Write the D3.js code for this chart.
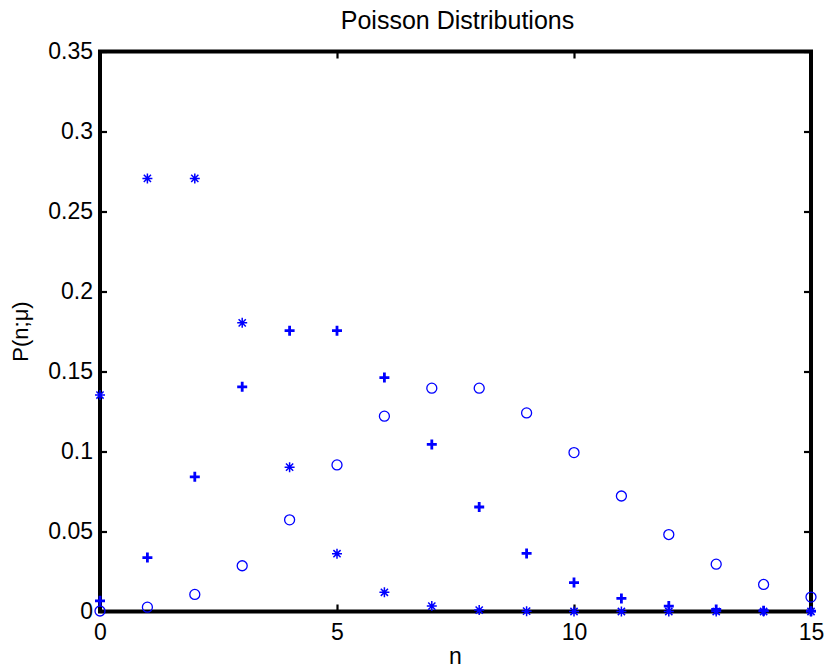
<!DOCTYPE html>
<html>
<head>
<meta charset="utf-8">
<script src="https://cdn.jsdelivr.net/npm/d3@7"></script>
<style>
  html, body { margin: 0; padding: 0; background: #fff; }
  svg text { font-family: "Liberation Sans", Arial, sans-serif; fill: #000; }
</style>
</head>
<body>
<svg id="chart" width="831" height="672"></svg>
<script>
// Poisson probabilities P(n; mu) for n = 0..15
const nValues = d3.range(0, 16);
const pMu2 = [0.1353, 0.2707, 0.2707, 0.1804, 0.0902, 0.0361, 0.0120, 0.0034,
              0.0009, 0.0002, 0.0000, 0.0000, 0.0000, 0.0000, 0.0000, 0.0000];
const pMu5 = [0.0067, 0.0337, 0.0842, 0.1404, 0.1755, 0.1755, 0.1462, 0.1044,
              0.0653, 0.0363, 0.0181, 0.0082, 0.0034, 0.0013, 0.0005, 0.0002];
const pMu8 = [0.0003, 0.0027, 0.0107, 0.0286, 0.0573, 0.0916, 0.1221, 0.1396,
              0.1396, 0.1241, 0.0993, 0.0722, 0.0481, 0.0296, 0.0169, 0.0090];
const xTicks = [0, 5, 10, 15];
const yTicks = [0, 0.05, 0.1, 0.15, 0.2, 0.25, 0.3, 0.35];

const svg = d3.select("#chart");
const plotL = 100, plotR = 811, plotT = 51.5, plotB = 611.5;
const blue = "#0000ff";

const x = d3.scaleLinear().domain([0, 15]).range([plotL, plotR]);
const y = d3.scaleLinear().domain([0, 0.35]).range([plotB, plotT]);

// Axes with inward ticks, MATLAB style
const fmt = d => String(+d.toFixed(2));
const tickLen = 7;
svg.append("g").attr("transform", `translate(0,${plotB})`)
  .call(d3.axisBottom(x).tickValues(xTicks).tickSize(-tickLen).tickPadding(12).tickFormat(d => d));
svg.append("g").attr("transform", `translate(${plotL},0)`)
  .call(d3.axisLeft(y).tickValues(yTicks).tickSize(-tickLen).tickPadding(7).tickFormat(fmt));
// ticks on top and right edges too
svg.append("g").attr("transform", `translate(0,${plotT})`)
  .call(d3.axisTop(x).tickValues(xTicks).tickSize(-tickLen).tickFormat(""));
svg.append("g").attr("transform", `translate(${plotR},0)`)
  .call(d3.axisRight(y).tickValues(yTicks).tickSize(-tickLen).tickFormat(""));

svg.selectAll(".domain").remove();
svg.selectAll(".tick line").attr("stroke", "#000").attr("stroke-width", 2.2);
svg.selectAll(".tick text").attr("font-size", 23).style("font-family", "Liberation Sans, Arial, sans-serif");

// Box frame
svg.append("rect")
  .attr("x", plotL).attr("y", plotT)
  .attr("width", plotR - plotL).attr("height", plotB - plotT)
  .attr("fill", "none").attr("stroke", "#000").attr("stroke-width", 4);

const marks = svg.append("g");

// mu = 8: open circles
marks.selectAll("circle.mu8").data(nValues).join("circle")
  .attr("class", "mu8")
  .attr("cx", d => x(d)).attr("cy", (d, i) => y(pMu8[i]))
  .attr("r", 5).attr("fill", "none").attr("stroke", blue).attr("stroke-width", 1.3);

// mu = 5: plus signs
marks.selectAll("path.mu5").data(nValues).join("path")
  .attr("class", "mu5")
  .attr("transform", (d, i) => `translate(${x(d)},${y(pMu5[i])})`)
  .attr("d", "M-5,0H5M0,-5V5")
  .attr("stroke", blue).attr("stroke-width", 2.8).attr("fill", "none");

// mu = 2: asterisks
const starPath = "M-5,0H5M0,-5V5M-3.6,-3.6L3.6,3.6M-3.6,3.6L3.6,-3.6";
marks.selectAll("path.mu2").data(nValues).join("path")
  .attr("class", "mu2")
  .attr("transform", (d, i) => `translate(${x(d)},${y(pMu2[i])})`)
  .attr("d", starPath)
  .attr("stroke", blue).attr("stroke-width", 1.5).attr("fill", "none");

// Title and axis labels
svg.append("text").attr("x", (plotL + plotR) / 2 + 2).attr("y", 29)
  .attr("text-anchor", "middle").attr("font-size", 25).text("Poisson Distributions");
svg.append("text").attr("x", (plotL + plotR) / 2).attr("y", 664)
  .attr("text-anchor", "middle").attr("font-size", 23).text("n");
svg.append("text").attr("transform", `translate(28,${(plotT + plotB) / 2}) rotate(-90)`)
  .attr("text-anchor", "middle").attr("font-size", 22).text("P(n;μ)");
</script>
</body>
</html>
